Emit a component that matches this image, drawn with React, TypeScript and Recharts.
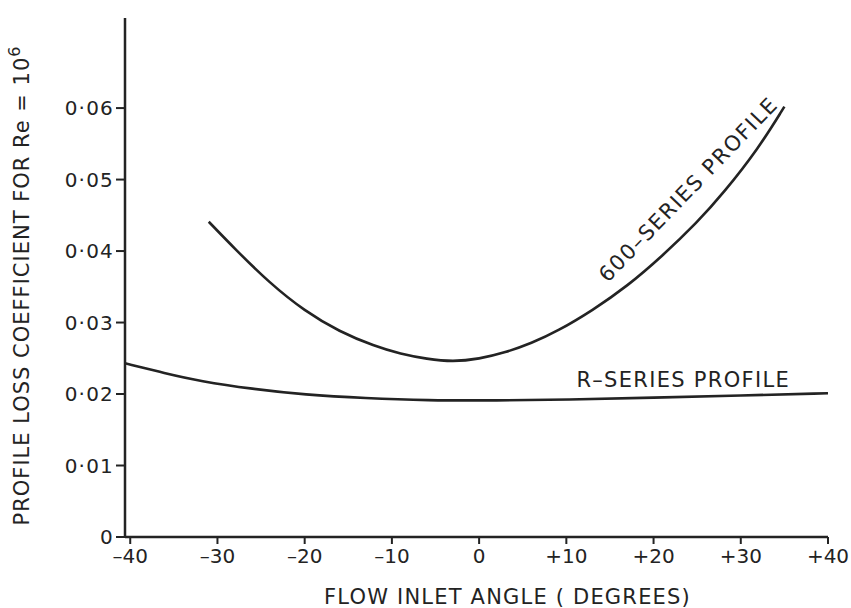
import React from "react";
import { LineChart, Line, XAxis, YAxis, ReferenceDot } from "recharts";

const series600X = [-31, -28, -24, -20, -16, -12, -9, -6, -3, 0, 3, 6, 9, 13, 17, 21, 25, 28, 32, 35];
const series600Y = [0.0441, 0.0403, 0.0355, 0.0316, 0.0287, 0.0267, 0.0256, 0.0249, 0.0245, 0.0249, 0.0258, 0.0271, 0.0288, 0.0317, 0.0351, 0.0393, 0.044, 0.0481, 0.0543, 0.0602];
const seriesRX = [-40.6, -36, -32, -26, -20, -13, -6, 2, 10, 20, 30, 40];
const seriesRY = [0.0243, 0.0229, 0.0218, 0.0207, 0.0199, 0.0194, 0.0191, 0.0191, 0.0192, 0.0195, 0.0198, 0.0201];
const xTicks = [-40, -30, -20, -10, 0, 10, 20, 30, 40];
const yTicks = [0, 0.01, 0.02, 0.03, 0.04, 0.05, 0.06];
const label600 = "600–SERIES PROFILE";
const labelR = "R–SERIES PROFILE";

const data600 = series600X.map((x, i) => ({ x, y: series600Y[i] }));
const dataR = seriesRX.map((x, i) => ({ x, y: seriesRY[i] }));

const INK = "#232323";
const FONT = "'DejaVu Sans', 'Liberation Sans', Arial, sans-serif";

const fmtX = (v: number) => (v > 0 ? `+${v}` : v < 0 ? `–${Math.abs(v)}` : "0");
const fmtY = (v: number) => (v === 0 ? "0" : v.toFixed(2).replace(".", "·"));

export default function App() {
  return (
    <div style={{ position: "absolute", left: 0, top: 0, background: "#fff" }}>
      <LineChart width={851} height={608} margin={{ top: 18, right: 23, bottom: 0, left: 0 }}>
        <XAxis
          xAxisId="b"
          dataKey="x"
          type="number"
          domain={[-40.6, 40]}
          ticks={xTicks}
          tickFormatter={fmtX}
          allowDataOverflow
          height={71}
          axisLine={{ stroke: INK, strokeWidth: 2.5 }}
          tickLine={{ stroke: INK, strokeWidth: 2 }}
          tickSize={7}
          tickMargin={5}
          tick={{ fill: INK, fontSize: 20, fontFamily: FONT }}
          label={{
            content: (p: any) => {
              const vb = p.viewBox;
              return (
                <text x={vb.x + vb.width / 2 + 31} y={vb.y + 67} textAnchor="middle" fill={INK} fontSize={21} fontFamily={FONT} letterSpacing={1.2}>
                  FLOW INLET ANGLE ( DEGREES)
                </text>
              );
            },
          }}
        />
        <XAxis xAxisId="t" orientation="top" type="number" dataKey="x" domain={[-40.6, 40]} height={0} tick={false} tickLine={false} axisLine={{ stroke: INK, strokeWidth: 2 }} />
        <YAxis
          yAxisId="l"
          type="number"
          domain={[0, 0.0726]}
          ticks={yTicks}
          tickFormatter={fmtY}
          allowDataOverflow
          width={125}
          axisLine={{ stroke: INK, strokeWidth: 2.5 }}
          tickLine={{ stroke: INK, strokeWidth: 2 }}
          tickSize={9}
          tickMargin={2}
          tick={{ fill: INK, fontSize: 20, fontFamily: FONT, letterSpacing: 1.2 }}
          label={{
            content: (p: any) => {
              const vb = p.viewBox;
              const cx = vb.x + 22;
              const cy = vb.y + vb.height / 2 + 8;
              return (
                <text x={cx} y={cy} transform={`rotate(-90 ${cx} ${cy})`} textAnchor="middle" dominantBaseline="central" fill={INK} fontSize={21} fontFamily={FONT} letterSpacing={1.0}>
                  PROFILE  LOSS  COEFFICIENT  FOR  Re = 10
                  <tspan dy={-8} fontSize={16}>6</tspan>
                </text>
              );
            },
          }}
        />
        <YAxis yAxisId="r" orientation="right" type="number" domain={[0, 0.0726]} width={0} tick={false} tickLine={false} axisLine={{ stroke: INK, strokeWidth: 2 }} />
        <Line xAxisId="b" yAxisId="l" data={data600} dataKey="y" type="basis" stroke={INK} strokeWidth={2.6} dot={false} isAnimationActive={false} />
        <Line xAxisId="b" yAxisId="l" data={dataR} dataKey="y" type="basis" stroke={INK} strokeWidth={2.6} dot={false} isAnimationActive={false} />
        <ReferenceDot
          xAxisId="b"
          yAxisId="l"
          x={24}
          y={0.0486}
          r={0}
          stroke="none"
          fill="none"
          label={{
            content: (p: any) => {
              const vb = p.viewBox;
              const cx = vb.x + (vb.width || 0) / 2;
              const cy = vb.y + (vb.height || 0) / 2;
              return (
                <text x={cx} y={cy} transform={`rotate(-46 ${cx} ${cy})`} textAnchor="middle" dominantBaseline="central" fill={INK} fontSize={21} fontFamily={FONT} letterSpacing={1.6}>
                  {label600}
                </text>
              );
            },
          }}
        />
        <ReferenceDot
          xAxisId="b"
          yAxisId="l"
          x={23.4}
          y={0.022}
          r={0}
          stroke="none"
          fill="none"
          label={{
            content: (p: any) => {
              const vb = p.viewBox;
              const cx = vb.x + (vb.width || 0) / 2;
              const cy = vb.y + (vb.height || 0) / 2;
              return (
                <text x={cx} y={cy} textAnchor="middle" dominantBaseline="central" fill={INK} fontSize={21} fontFamily={FONT} letterSpacing={1.3}>
                  {labelR}
                </text>
              );
            },
          }}
        />
      </LineChart>
    </div>
  );
}
